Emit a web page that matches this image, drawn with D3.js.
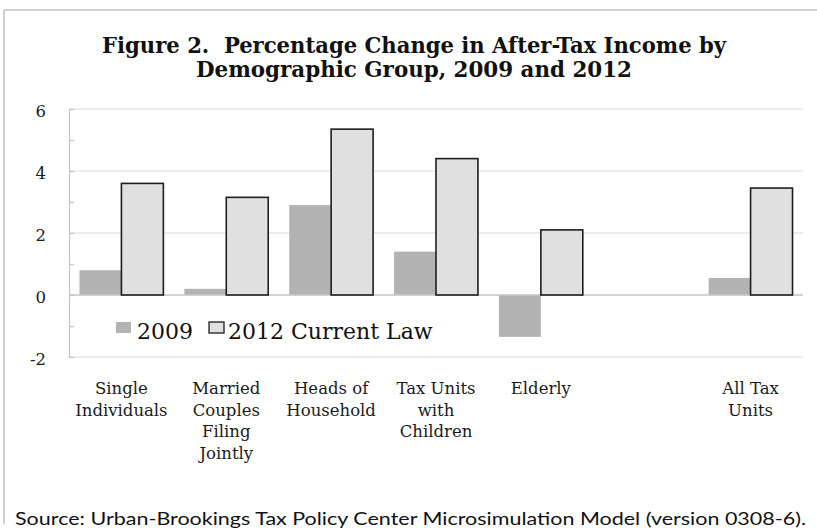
<!DOCTYPE html>
<html>
<head>
<meta charset="utf-8">
<script src="https://cdn.jsdelivr.net/npm/d3@7"></script>
<style>
  html, body { margin: 0; padding: 0; background: #fff; }
  svg { display: block; }
  .pre { white-space: pre; }
</style>
</head>
<body>
<svg id="chart" width="817" height="531"></svg>
<script>
// Demographic groups (one slot is intentionally left empty before "All Tax Units")
const categories = [
  "Single Individuals",
  "Married Couples Filing Jointly",
  "Heads of Household",
  "Tax Units with Children",
  "Elderly",
  "",
  "All Tax Units"
];
const categoryLines = [
  ["Single", "Individuals"],
  ["Married", "Couples", "Filing", "Jointly"],
  ["Heads of", "Household"],
  ["Tax Units", "with", "Children"],
  ["Elderly"],
  [],
  ["All Tax", "Units"]
];
const values2009 = [0.8, 0.2, 2.9, 1.4, -1.35, null, 0.55];
const values2012 = [3.6, 3.15, 5.35, 4.4, 2.1, null, 3.45];
const seriesNames = ["2009", "2012 Current Law"];
const yTicksMajor = [-2, 0, 2, 4, 6];
const yTicksMinor = [-2, -1, 0, 1, 2, 3, 4, 5, 6];

const titleLines = [
  "Figure 2.  Percentage Change in After-Tax Income by",
  "Demographic Group, 2009 and 2012"
];
const sourceText = "Source: Urban-Brookings Tax Policy Center Microsimulation Model (version 0308-6).";

const svg = d3.select("#chart");
const serif = "'DejaVu Serif', serif";

// chart frame edges
svg.append("line").attr("x1", 4).attr("x2", 817).attr("y1", 10).attr("y2", 10)
  .attr("stroke", "#cfcfcf").attr("stroke-width", 2);
svg.append("line").attr("x1", 4).attr("x2", 4).attr("y1", 10).attr("y2", 524)
  .attr("stroke", "#cfcfcf").attr("stroke-width", 2);

// title
const titleWidths = [624, 436];
const titleY = [53, 77];
titleLines.forEach((t, i) => {
  svg.append("text")
    .attr("class", "pre")
    .attr("x", 414).attr("y", titleY[i])
    .attr("text-anchor", "middle")
    .attr("font-family", "'DejaVu Serif Condensed', 'DejaVu Serif', serif")
    .attr("font-stretch", "condensed")
    .attr("font-weight", "bold")
    .attr("font-size", 22.5)
    .attr("fill", "#111")
    .attr("textLength", titleWidths[i])
    .attr("lengthAdjust", "spacingAndGlyphs")
    .text(t);
});

// scales
const plot = { left: 69, right: 803, top: 109, bottom: 357 };
const x = d3.scaleBand()
  .domain(d3.range(categories.length))
  .range([plot.left, plot.right])
  .paddingInner(0.2)
  .paddingOuter(0.1);
const xSub = d3.scaleBand()
  .domain([0, 1])
  .range([0, x.bandwidth()]);
const y = d3.scaleLinear().domain([-2, 6]).range([plot.bottom, plot.top]);

// gridlines
svg.append("g")
  .selectAll("line")
  .data(yTicksMajor.filter(v => v !== 0))
  .join("line")
  .attr("x1", plot.left).attr("x2", plot.right)
  .attr("y1", d => y(d)).attr("y2", d => y(d))
  .attr("stroke", "#e6e6e6").attr("stroke-width", 1.3);

// y axis
const yAxis = svg.append("g")
  .attr("transform", `translate(${plot.left},0)`)
  .call(d3.axisRight(y).tickValues(yTicksMinor).tickSize(5).tickFormat(""));
yAxis.select(".domain").attr("stroke", "#c4c4c4").attr("stroke-width", 1.2);
yAxis.selectAll(".tick line").attr("stroke", "#c4c4c4").attr("stroke-width", 1.2);

svg.append("g")
  .selectAll("text")
  .data(yTicksMajor)
  .join("text")
  .attr("x", 46).attr("y", d => y(d) + 2)
  .attr("text-anchor", "end")
  .attr("dominant-baseline", "central")
  .attr("font-family", serif)
  .attr("font-size", 16.5)
  .attr("fill", "#1a1a1a")
  .text(d => d);

// bars: 2009
svg.append("g").selectAll("rect")
  .data(values2009.map((v, i) => ({ v, i })).filter(d => d.v !== null))
  .join("rect")
  .attr("x", d => x(d.i) + xSub(0))
  .attr("width", xSub.bandwidth())
  .attr("y", d => y(Math.max(0, d.v)))
  .attr("height", d => Math.abs(y(d.v) - y(0)))
  .attr("fill", "#b3b3b3");

// zero line
svg.append("line")
  .attr("x1", plot.left).attr("x2", plot.right)
  .attr("y1", y(0)).attr("y2", y(0))
  .attr("stroke", "#c4c4c4").attr("stroke-width", 1.3);

// bars: 2012 current law
svg.append("g").selectAll("rect")
  .data(values2012.map((v, i) => ({ v, i })).filter(d => d.v !== null))
  .join("rect")
  .attr("x", d => x(d.i) + xSub(1))
  .attr("width", xSub.bandwidth())
  .attr("y", d => y(Math.max(0, d.v)))
  .attr("height", d => Math.abs(y(d.v) - y(0)))
  .attr("fill", "#e0e0e0")
  .attr("stroke", "#1e1e1e")
  .attr("stroke-width", 1.6);

// category labels
const labels = svg.append("g")
  .attr("font-family", serif)
  .attr("font-size", 16.5)
  .attr("fill", "#1a1a1a")
  .attr("text-anchor", "middle");
categoryLines.forEach((lines, i) => {
  const cx = x(i) + x.bandwidth() / 2;
  const t = labels.append("text").attr("x", cx).attr("y", 394);
  lines.forEach((ln, j) => {
    t.append("tspan")
      .attr("x", cx)
      .attr("dy", j === 0 ? 0 : 21.7)
      .text(ln);
  });
});

// legend
const legend = svg.append("g").attr("font-family", serif).attr("font-size", 22).attr("fill", "#111");
const legendItems = [
  { name: seriesNames[0], sx: 116, tx: 137, fill: "#b3b3b3", stroke: "none" },
  { name: seriesNames[1], sx: 209, tx: 228, fill: "#e0e0e0", stroke: "#1e1e1e" }
];
legendItems.forEach(it => {
  legend.append("rect")
    .attr("x", it.sx).attr("y", 322)
    .attr("width", 15).attr("height", 11)
    .attr("fill", it.fill)
    .attr("stroke", it.stroke)
    .attr("stroke-width", 1.3);
  legend.append("text")
    .attr("x", it.tx).attr("y", 339)
    .text(it.name);
});

// source note
svg.append("text")
  .attr("x", 15).attr("y", 525)
  .attr("font-family", "Lato, 'Open Sans', sans-serif")
  .attr("font-size", 17)
  .attr("fill", "#111")
  .attr("textLength", 791)
  .attr("lengthAdjust", "spacingAndGlyphs")
  .text(sourceText);
</script>
</body>
</html>
